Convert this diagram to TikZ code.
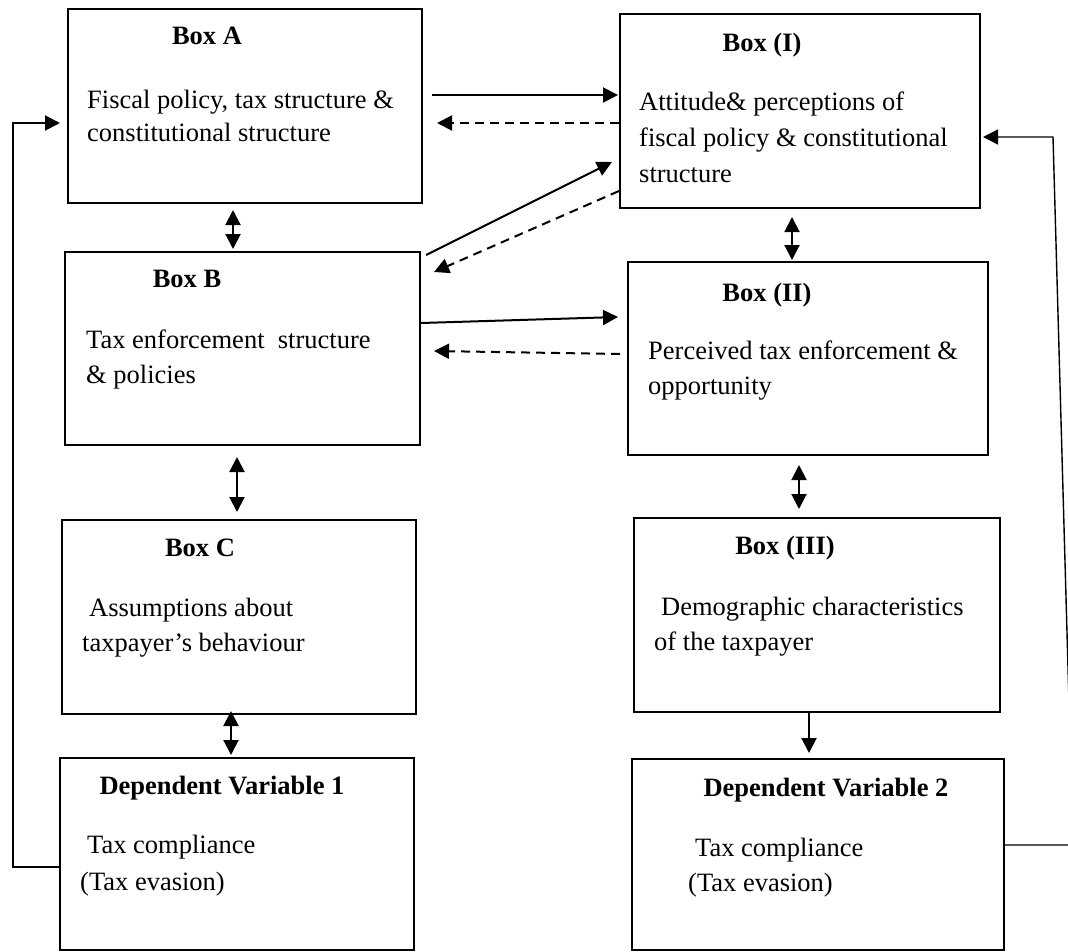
\documentclass[tikz,border=0pt]{standalone}
\usepackage{fontspec}
\setmainfont{Liberation Serif}
\usetikzlibrary{arrows.meta}

\newcommand{\diagfont}{\fontsize{26.5pt}{35pt}\selectfont}

\tikzset{
  box/.style={draw=black, line width=2pt, fill=none, inner sep=0pt,
    anchor=north west},
  title/.style={anchor=base, inner sep=0pt, font=\diagfont\bfseries},
  body/.style={anchor=base west, inner sep=0pt, font=\diagfont},
  tipshape/.tip={Triangle[length=15pt,width=15pt]},
  flow/.style={line width=2pt, -tipshape},
  back/.style={line width=2pt, -tipshape, dash pattern=on 9pt off 6pt},
  both/.style={line width=2pt, tipshape-tipshape},
  loop/.style={line width=1.4pt, -tipshape},
}

\begin{document}
\begin{tikzpicture}[x=1pt, y=-1pt]
\useasboundingbox (0,0) rectangle (1068,951);
\clip (0,0) rectangle (1068,951);

% ---------- left column: policy side ----------
\node[box, minimum width=354pt, minimum height=194pt] (A) at (67,8) {};
\node[title] (Al) at (207,44) {Box A};
\node[body] (At1) at (87,108) {Fiscal policy, tax structure \&};
\node[body] (At2) at (87,141) {constitutional structure};

\node[box, minimum width=355pt, minimum height=193pt] (B) at (64,251) {};
\node[title] (Bl) at (187,287) {Box B};
\node[body] (Bt1) at (86,348) {Tax enforcement\ \ structure};
\node[body] (Bt2) at (86,383) {\& policies};

\node[box, minimum width=354pt, minimum height=194pt] (C) at (61,519) {};
\node[title] (Cl) at (200,556) {Box C};
\node[body] (Ct1) at (89,616) {Assumptions about};
\node[body] (Ct2) at (82,651) {taxpayer’s behaviour};

\node[box, minimum width=354pt, minimum height=192pt] (D1) at (59,757) {};
\node[title] (D1l) at (222,794) {Dependent Variable 1};
\node[body] (D1t1) at (87,853) {Tax compliance};
\node[body] (D1t2) at (80,890) {(Tax evasion)};

% ---------- right column: taxpayer side ----------
\node[box, minimum width=360pt, minimum height=194pt] (I) at (619,13) {};
\node[title] (Il) at (762,51) {Box (I)};
\node[body] (It1) at (639,110) {Attitude\& perceptions of};
\node[body] (It2) at (639,146) {fiscal policy \& constitutional};
\node[body] (It3) at (639,182) {structure};

\node[box, minimum width=360pt, minimum height=193pt] (II) at (627,261) {};
\node[title] (IIl) at (767,301) {Box (II)};
\node[body] (IIt1) at (648,359) {Perceived tax enforcement \&};
\node[body] (IIt2) at (648,394) {opportunity};

\node[box, minimum width=366pt, minimum height=194pt] (III) at (633,517) {};
\node[title] (IIIl) at (785,554) {Box (III)};
\node[body] (IIIt1) at (661,615) {Demographic characteristics};
\node[body] (IIIt2) at (654,650) {of the taxpayer};

\node[box, minimum width=372pt, minimum height=191pt] (D2) at (631,758) {};
\node[title] (D2l) at (826,796) {Dependent Variable 2};
\node[body] (D2t1) at (695,856) {Tax compliance};
\node[body] (D2t2) at (688,891) {(Tax evasion)};

% ---------- links between the columns ----------
\draw[flow] ([xshift=9pt,yshift=-87pt]A.north east)
  -- ([xshift=-1pt,yshift=-82pt]I.north west);
\draw[back] ([yshift=-110pt]I.north west)
  -- ([xshift=14pt,yshift=-115pt]A.north east);
\draw[flow] ([xshift=5pt,yshift=-4pt]B.north east)
  -- ([xshift=-7pt,yshift=-149pt]I.north west);
\draw[back] ([yshift=-178pt]I.north west)
  -- ([xshift=13pt,yshift=-21pt]B.north east);
\draw[flow] ([yshift=-72pt]B.north east)
  -- ([xshift=-9pt,yshift=-56pt]II.north west);
\draw[back] ([xshift=-7pt,yshift=-93pt]II.north west)
  -- ([xshift=13pt,yshift=-100pt]B.north east);

% ---------- links within the columns ----------
\draw[both] ([xshift=166pt,yshift=-6pt]A.south west)
  -- ([xshift=169pt,yshift=2pt]B.north west);
\draw[both] ([xshift=173pt,yshift=-11pt]B.south west)
  -- ([xshift=176pt,yshift=7pt]C.north west);
\draw[both] ([xshift=170pt,yshift=4pt]C.south west)
  -- ([xshift=172pt,yshift=2pt]D1.north west);
\draw[both] ([xshift=173pt,yshift=-8pt]I.south west)
  -- ([xshift=165pt,yshift=1pt]II.north west);
\draw[both] ([xshift=172pt,yshift=-9pt]II.south west)
  -- ([xshift=166pt,yshift=8pt]III.north west);
\draw[flow] ([xshift=176pt]III.south west)
  -- ([xshift=178pt,yshift=5pt]D2.north west);

% ---------- feedback loops ----------
\coordinate (lx) at (13,500);
\draw[flow] ([yshift=-110pt]D1.north west) -| (lx)
  |- ([xshift=-7pt,yshift=-115pt]A.north west);

\coordinate (rc) at (1073,845);
\coordinate (rt) at (1053,137);
\draw[loop] ([yshift=-87pt]D2.north east) -- (rc) -- (rt)
  -- ([xshift=2pt,yshift=-124pt]I.north east);
\end{tikzpicture}
\end{document}
